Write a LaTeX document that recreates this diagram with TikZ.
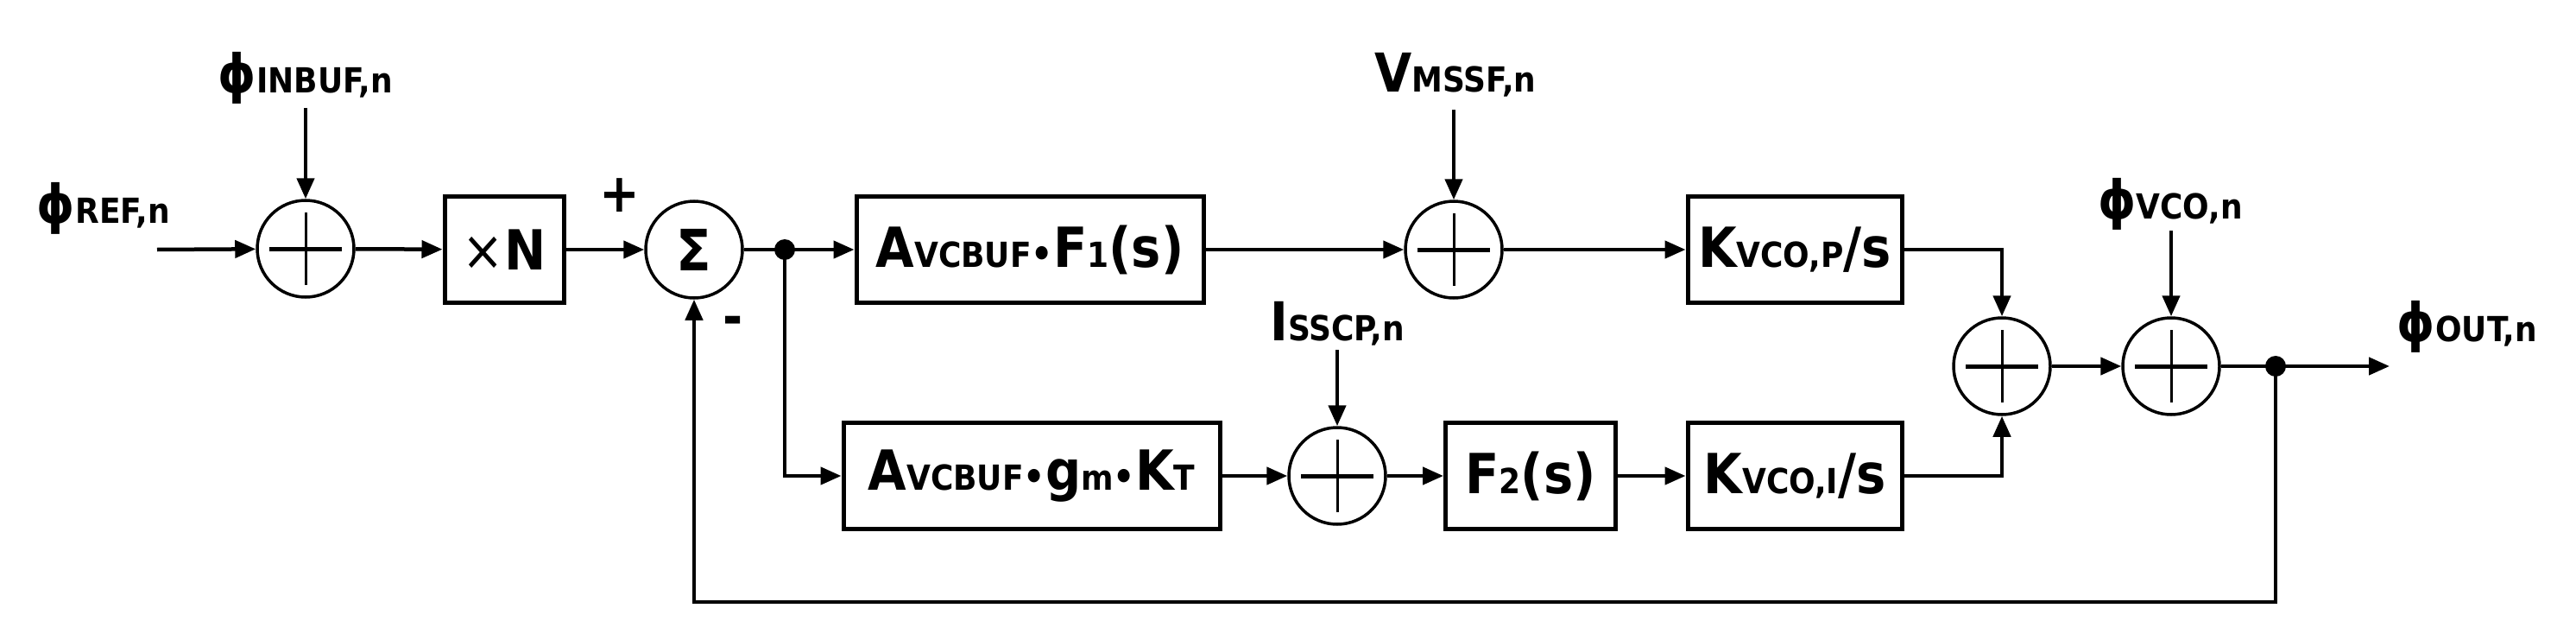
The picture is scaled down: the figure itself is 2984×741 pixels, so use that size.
\documentclass[tikz,border=0pt]{standalone}
\usepackage{fontspec}
\setmainfont{DejaVu Sans Condensed}
\usetikzlibrary{arrows.meta}
\newcommand{\subt}[1]{{\fontsize{40}{40}\selectfont #1}}
\newcommand{\bul}{{\fontsize{44}{44}\selectfont\textbullet}}
\begin{document}
\begin{tikzpicture}[x=1pt,y=-1pt,
  blk/.style={draw,line width=5pt,minimum height=123pt,inner sep=0pt,font=\fontsize{64}{64}\selectfont\bfseries},
  sm/.style={draw,circle,line width=3.5pt,minimum size=112pt,inner sep=0pt},
  lab/.style={font=\fontsize{62}{62}\selectfont\bfseries,inner sep=0pt},
  ar/.style={line width=4.5pt,-{Triangle[length=24pt,width=20pt]}},
  ln/.style={line width=4.5pt}]
\useasboundingbox (0,0) rectangle (2984,741);
\newcommand{\cross}[1]{\draw[line width=3pt] ([yshift=-42pt]#1.center)--([yshift=42pt]#1.center);
  \draw[line width=5pt] ([xshift=-42pt]#1.center)--([xshift=42pt]#1.center);}
% nodes
\node[sm] (s1) at (354,288) {}; \cross{s1}
\node[blk,minimum width=138pt] (xn) at (584,289) {{\fontsize{64}{64}\selectfont\mdseries×}N};
\node[sm,font=\fontsize{66}{66}\selectfont\bfseries] (sg) at (804,289) {Σ};
\node[blk,minimum width=402pt] (af) at (1193,289) {A\subt{VCBUF}\bul F\subt{1}(s)};
\node[sm] (sv) at (1684,289) {}; \cross{sv}
\node[blk,minimum width=248pt] (kp) at (2079,289) {K\subt{VCO,P}/s};
\node[blk,minimum width=436pt] (ag) at (1195,551) {A\subt{VCBUF}\bul g\subt{m}\bul K\subt{T}};
\node[sm] (si) at (1549,551) {}; \cross{si}
\node[blk,minimum width=197pt] (f2) at (1773,551) {F\subt{2}(s)};
\node[blk,minimum width=248pt] (ki) at (2079,551) {K\subt{VCO,I}/s};
\node[sm] (sc) at (2319,424) {}; \cross{sc}
\node[sm] (so) at (2515,424) {}; \cross{so}
\fill (909,289) circle (12pt) coordinate (d1);
\fill (2636,424) circle (12pt) coordinate (d2);
% labels
\node[lab] (lref) at (120,241) {ϕ\subt{REF,n}};
\node[lab] (lin) at (354,90) {ϕ\subt{INBUF,n}};
\node[lab] (lvm) at (1686,87) {V\subt{MSSF,n}};
\node[lab] (lis) at (1549,375) {I\subt{SSCP,n}};
\node[lab] (lvc) at (2514,236) {ϕ\subt{VCO,n}};
\node[lab] (lout) at (2858,378) {ϕ\subt{OUT,n}};
\node[lab] (lp) at (718,226) {+};
\node[lab] (lm) at (849,377) {-};
\coordinate (in) at (182,289);
\coordinate (out) at (2768,424);
% connectors
\draw[ar] (in) -- (s1);
\draw[ar] (354,125) -- (s1);
\draw[ar] (s1) -- (xn);
\draw[ar] (xn) -- (sg);
\draw[ln] (sg) -- (d1);
\draw[ar] (d1) -- (af);
\draw[ar] (d1) |- (ag);
\draw[ar] (af) -- (sv);
\draw[ar] (1684,127) -- (sv);
\draw[ar] (sv) -- (kp);
\draw[ar] (ag) -- (si);
\draw[ar] (1549,405) -- (si);
\draw[ar] (si) -- (f2);
\draw[ar] (f2) -- (ki);
\draw[ar] (kp) -| (sc);
\draw[ar] (ki) -| (sc);
\draw[ar] (sc) -- (so);
\draw[ar] (2515,267) -- (so);
\draw[ar] (so) -- (out);
\draw[ar] (d2) |- (804,697) -- (sg);
\end{tikzpicture}
\end{document}
